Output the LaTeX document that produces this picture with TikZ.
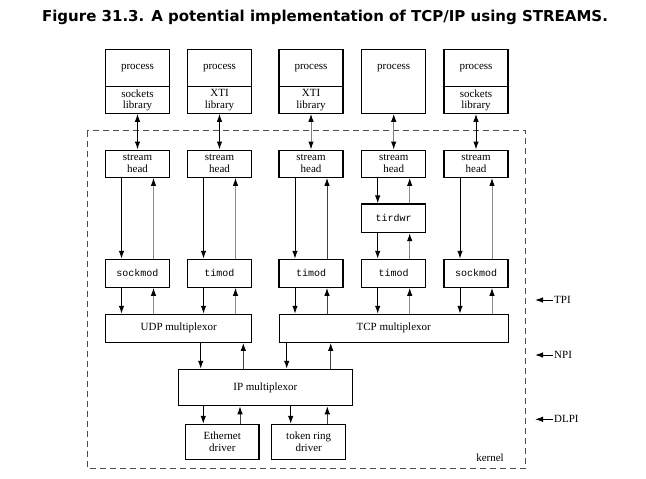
\documentclass[tikz,border=0pt]{standalone}
\usepackage{fontspec}
\setmainfont{Liberation Serif}
\setmonofont{Liberation Mono}
\newfontfamily\titlefont{DejaVu Sans}
\usetikzlibrary{arrows.meta,calc}
\tikzset{
  box/.style={draw=black, line width=1.1pt, fill=white, inner sep=0pt, minimum width=64pt, align=center, font=\fontsize{11}{11.5}\selectfont},
  mod/.style={box, minimum height=28pt, font=\ttfamily\fontsize{10}{11}\selectfont},
  dn/.style={draw=black, line width=1pt, -{Latex[length=8pt,width=5.5pt]}},
  up/.style={draw=black!45, line width=1pt, -{Latex[length=8pt,width=5.5pt,color=black]}},
  upd/.style={draw=black!75, line width=1pt, -{Latex[length=8pt,width=5.5pt,color=black]}},
  both/.style={draw=black, line width=1pt, {Latex[length=8pt,width=5.5pt]}-{Latex[length=8pt,width=5.5pt]}},
  bothg/.style={draw=black!50, line width=1pt, {Latex[length=8pt,width=5.5pt,color=black]}-{Latex[length=8pt,width=5.5pt,color=black]}},
  lbl/.style={font=\fontsize{11}{11.5}\selectfont, inner sep=1pt, align=center},
  iface/.style={draw=black, line width=1pt, -{Latex[length=8pt,width=5.5pt]}}
}
\begin{document}
\begin{tikzpicture}[x=1pt,y=-1pt]
\useasboundingbox (0,0) rectangle (646,479);
\fill[white] (0,0) rectangle (646,479);
% title
\node[font=\titlefont\bfseries\fontsize{15}{17}\selectfont] (title) at (325,17) {Figure 31.3. A potential implementation of TCP/IP using STREAMS.};
% kernel dashed box
\draw[black!70, line width=1pt, dash pattern=on 6pt off 4pt] (87.3,130.7) rectangle (525.7,468);
\node[lbl, anchor=base] (kern) at (490,461) {kernel};
% process boxes
\foreach \i/\c in {1/137.5, 2/219.5, 3/311, 4/393.7, 5/476}{
  \node[box, minimum height=64pt] (pr\i) at (\c,81.3) {};
  \node[lbl] (pt\i) at (\c,67.65) {process};
}
\foreach \i/\lib in {1/sockets\\library, 2/XTI\\library, 3/XTI\\library, 5/sockets\\library}{
  \draw[line width=0.8pt] (pr\i.west |- 0,86) -- (pr\i.east |- 0,86);
  \node[lbl] (lib\i) at ($(pr\i.south)+(0,-13.6)$) {\lib};
}
% stream heads
\foreach \i/\c in {1/137.5, 2/219.5, 3/311, 4/393.7, 5/476}{
  \node[box, minimum height=27.3pt] (sh\i) at (\c,163.7) {stream\\head};
}
% modules
\node[mod] (m1) at (137.5,273.3) {sockmod};
\node[mod] (m2) at (219.5,273.3) {timod};
\node[mod] (m3) at (311,273.3) {timod};
\node[mod] (m4) at (393.7,273.3) {timod};
\node[mod] (m5) at (476,273.3) {sockmod};
\node[mod, minimum height=28.7pt] (tw) at (393.7,218.3) {tirdwr};
% multiplexors
\node[box, minimum width=146pt, minimum height=28pt] (udp) at (178.7,328.3) {UDP multiplexor};
\node[box, minimum width=229.3pt, minimum height=28pt] (tcp) at (393.7,328.3) {TCP multiplexor};
\node[box, minimum width=174pt, minimum height=36.4pt] (ip) at (265.3,387.5) {IP multiplexor};
\node[box, minimum width=73.3pt, minimum height=34.7pt] (eth) at (222.3,441.7) {Ethernet\\driver};
\node[box, minimum width=74pt, minimum height=34.7pt] (tok) at (308.7,441.7) {token ring\\driver};
% process <-> stream head
\draw[both] (pr1.south) -- (sh1.north);
\draw[both] (pr2.south) -- (sh2.north);
\draw[bothg] (pr3.south) -- (sh3.north);
\draw[bothg] (pr4.south) -- (sh4.north);
\draw[both] (pr5.south) -- (sh5.north);
% stream head <-> modules
\foreach \i in {1,2,3,5}{
  \draw[dn] ([xshift=-16pt]sh\i.south) -- ([xshift=-16pt]m\i.north);
}
\foreach \i in {1,2,5}{
  \draw[up] ([xshift=16pt]m\i.north) -- ([xshift=16pt]sh\i.south);
}
\draw[upd] ([xshift=16pt]m3.north) -- ([xshift=16pt]sh3.south);
\draw[dn] ([xshift=-16pt]sh4.south) -- ([xshift=-16pt]tw.north);
\draw[up] ([xshift=16pt]tw.north) -- ([xshift=16pt]sh4.south);
\draw[dn] ([xshift=-16pt]tw.south) -- ([xshift=-16pt]m4.north);
\draw[up] ([xshift=16pt]m4.north) -- ([xshift=16pt]tw.south);
% modules <-> multiplexors
\foreach \i/\mx in {1/udp,2/udp,3/tcp,4/tcp,5/tcp}{
  \draw[dn] ([xshift=-16pt]m\i.south) -- ([xshift=-16pt]m\i.south |- \mx.north);
}
\foreach \i/\mx in {1/udp,2/udp,4/tcp,5/tcp}{
  \draw[up] ([xshift=16pt]m\i.south |- \mx.north) -- ([xshift=16pt]m\i.south);
}
\draw[upd] ([xshift=16pt]m3.south |- tcp.north) -- ([xshift=16pt]m3.south);
% multiplexors <-> IP
\coordinate (a1) at ($(ip.north)+(-64.6,0)$);
\coordinate (a2) at ($(ip.north)+(-22,0)$);
\coordinate (a3) at ($(ip.north)+(21.4,0)$);
\coordinate (a4) at ($(ip.north)+(65.4,0)$);
\draw[dn] (a1 |- udp.south) -- (a1);
\draw[upd] (a2) -- (a2 |- udp.south);
\draw[dn] (a3 |- tcp.south) -- (a3);
\draw[upd] (a4) -- (a4 |- tcp.south);
% IP <-> drivers
\coordinate (b1) at ($(eth.north)+(-19,0)$);
\coordinate (b2) at ($(eth.north)+(17.7,0)$);
\coordinate (b3) at ($(tok.north)+(-18,0)$);
\coordinate (b4) at ($(tok.north)+(18.6,0)$);
\draw[dn] (b1 |- ip.south) -- (b1);
\draw[upd] (b2) -- (b2 |- ip.south);
\draw[dn] (b3 |- ip.south) -- (b3);
\draw[upd] (b4) -- (b4 |- ip.south);
% interface labels
\coordinate (tpiE) at (535,300);
\node[lbl, anchor=west] (tpi) at (553,300) {TPI};
\draw[iface] (tpi.west) -- (tpiE);
\coordinate (npiE) at (535,355);
\node[lbl, anchor=west] (npi) at (553,355) {NPI};
\draw[iface] (npi.west) -- (npiE);
\coordinate (dlpiE) at (535,419.3);
\node[lbl, anchor=west] (dlpi) at (553,419.3) {DLPI};
\draw[iface] (dlpi.west) -- (dlpiE);
\end{tikzpicture}
\end{document}
